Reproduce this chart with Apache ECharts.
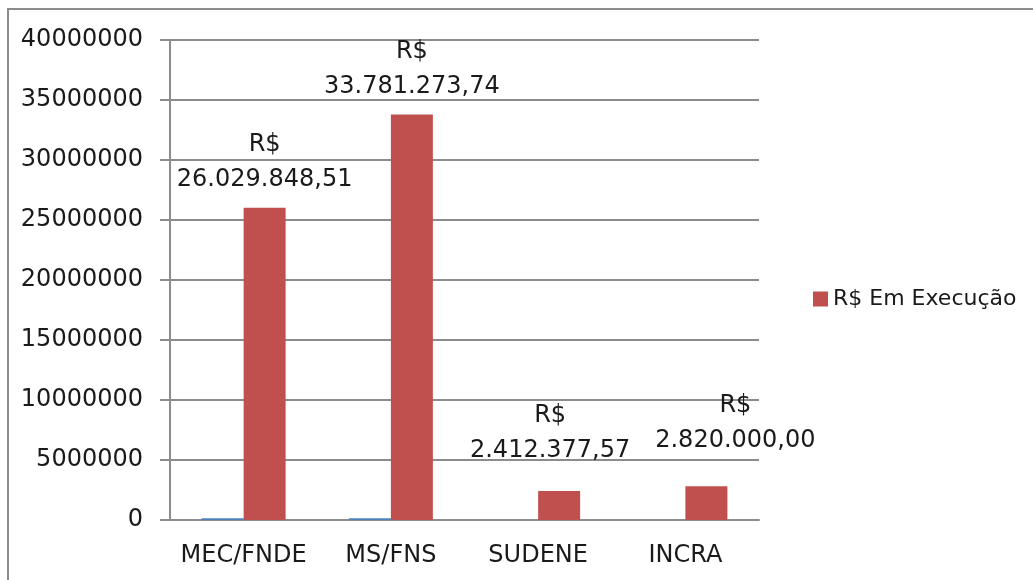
<!DOCTYPE html>
<html>
<head>
<meta charset="utf-8">
<script src="https://cdn.jsdelivr.net/npm/echarts@6/dist/echarts.min.js"></script>
<style>
  html, body { margin: 0; padding: 0; background: #fff; }
  .frame { position: absolute; left: 7px; top: 8px; width: 1100px; height: 700px; border: 2px solid #8c8c8c; }
  #chart { position: absolute; left: 0; top: 0; width: 1033px; height: 580px; }
</style>
</head>
<body>
<div class="frame"></div>
<div id="chart"></div>
<script>
const categories = ['MEC/FNDE', 'MS/FNS', 'SUDENE', 'INCRA']
const emExecucao = [26029848.51, 33781273.74, 2412377.57, 2820000.00]
const outraSerie = [150000, 150000, 0, 0]
const serieNome = 'R$ Em Execução'

const font = 'DejaVu Sans'
// label nudges per bar, Excel placed them by hand
const labelNudge = [[0, 0], [0, 0], [-9, -13], [29, -18]]

function brl(v) {
  const parts = v.toFixed(2).split('.')
  return 'R$\n' + parts[0].replace(/\B(?=(\d{3})+(?!\d))/g, '.') + ',' + parts[1]
}

const chart = echarts.init(document.getElementById('chart'))
chart.setOption({
  animation: false,
  textStyle: { fontFamily: font },
  grid: { left: 170, right: 274, top: 40, bottom: 60 },
  legend: {
    data: [{ name: serieNome, icon: 'rect' }],
    orient: 'vertical',
    left: 808, top: 283,
    itemWidth: 15, itemHeight: 15, itemGap: 8,
    textStyle: { fontFamily: font, fontSize: 22, color: '#1a1a1a' }
  },
  xAxis: {
    type: 'category',
    data: categories,
    axisLine: { lineStyle: { color: '#8c8c8c', width: 2 } },
    axisTick: { length: 9, lineStyle: { color: '#8c8c8c', width: 2 } },
    axisLabel: { interval: 0, fontFamily: font, fontSize: 24, color: '#1a1a1a', margin: 24 }
  },
  yAxis: {
    type: 'value',
    min: 0, max: 40000000, interval: 5000000,
    axisLine: { show: true, lineStyle: { color: '#8c8c8c', width: 2 } },
    axisTick: { show: true, length: 10, lineStyle: { color: '#8c8c8c', width: 2 } },
    axisLabel: {
      fontFamily: font, fontSize: 24, color: '#1a1a1a', margin: 27,
      formatter: (v) => String(v)
    },
    splitLine: { lineStyle: { color: '#8c8c8c', width: 2 } }
  },
  series: [
    {
      name: 'outra',
      type: 'bar',
      data: outraSerie,
      barWidth: 42,
      barGap: '0%',
      itemStyle: { color: '#4f81bd' }
    },
    {
      name: serieNome,
      type: 'bar',
      data: emExecucao.map((v, i) => ({
        value: v,
        label: { offset: labelNudge[i] }
      })),
      barWidth: 42,
      barGap: '0%',
      itemStyle: { color: '#c0504d' },
      label: {
        show: true,
        position: 'top',
        distance: 10,
        fontFamily: font,
        fontSize: 24,
        lineHeight: 35,
        color: '#1a1a1a',
        formatter: (p) => brl(p.value)
      }
    }
  ]
})
</script>
</body>
</html>
